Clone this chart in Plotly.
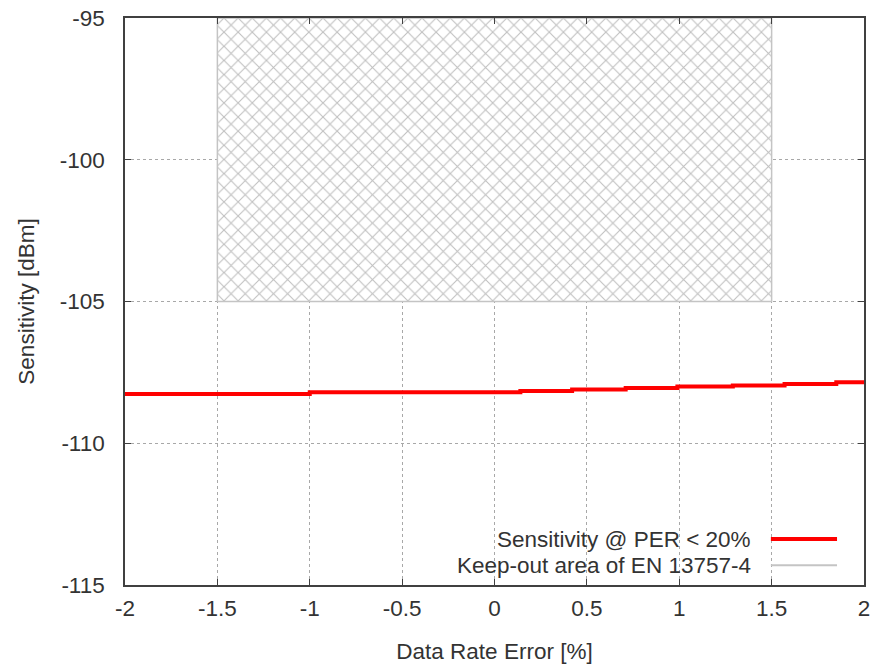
import plotly.graph_objects as go

# Data
rate_error = [-2.0, -1.0, 0.14, 0.42, 0.71, 0.99, 1.29, 1.57, 1.85, 2.0]
sensitivity = [-108.26, -108.2, -108.16, -108.1, -108.05, -108.0, -107.96, -107.91, -107.85, -107.85]
keepout_x = [-1.5, 1.5]
keepout_y = [-105, -95]
x_ticks = [-2, -1.5, -1, -0.5, 0, 0.5, 1, 1.5, 2]
x_ticklabels = ["-2", "-1.5", "-1", "-0.5", "0", "0.5", "1", "1.5", "2"]
y_ticks = [-115, -110, -105, -100, -95]
y_ticklabels = ["-115", "-110", "-105", "-100", "-95"]
legend_names = ["Sensitivity @ PER < 20%", "Keep-out area of EN 13757-4"]

FONT = "Liberation Sans"
AX = "#404040"
FS = 22.5

fig = go.Figure()

# keep-out hatched area
kx = [keepout_x[0], keepout_x[1], keepout_x[1], keepout_x[0], keepout_x[0]]
ky = [keepout_y[0], keepout_y[0], keepout_y[1], keepout_y[1], keepout_y[0]]
fig.add_trace(go.Scatter(
    x=kx, y=ky, mode="lines", fill="toself",
    line=dict(color="#c4c4c4", width=1.5),
    fillcolor="white",
    fillpattern=dict(shape="x", size=10, solidity=0.2, fgcolor="#c0c0c0", bgcolor="white", fillmode="replace"),
    showlegend=False, hoverinfo="skip",
))

# sensitivity line
fig.add_trace(go.Scatter(
    x=rate_error, y=sensitivity, mode="lines",
    line=dict(color="#ff0000", width=4, shape="hv"),
    showlegend=False,
))

axis_common = dict(
    showline=True, linecolor=AX, linewidth=1.5, mirror="ticks",
    ticks="inside", ticklen=6, tickwidth=1.2, tickcolor=AX,
    showgrid=True, gridcolor="#a8a8a8", gridwidth=1, griddash="dot",
    zeroline=False, automargin=False, ticklabeloverflow="allow",
    tickfont=dict(family=FONT, size=FS, color="#333333"),
)

fig.update_xaxes(
    range=[-2, 2], tickvals=x_ticks, ticktext=x_ticklabels,
    title=dict(text="Data Rate Error [%]", font=dict(family=FONT, size=FS, color="#333333"), standoff=23),
    ticklabelstandoff=2,
    **axis_common,
)
fig.update_yaxes(
    range=[-115, -95], tickvals=y_ticks, ticktext=y_ticklabels,
    title=dict(text="Sensitivity [dBm]", font=dict(family=FONT, size=FS, color="#333333"), standoff=19),
    ticklabelstandoff=14,
    **axis_common,
)

# opaque legend box (covers grid)
fig.add_shape(type="rect", xref="paper", yref="paper", x0=0.367, x1=1.0, y0=0.0, y1=0.108,
              fillcolor="white", line=dict(width=0), layer="between")

# legend entries
leg_y = [0.081, 0.035]
leg_colors = ["#ff0000", "#c4c4c4"]
leg_widths = [4, 2]
for name, yy, c, w in zip(legend_names, leg_y, leg_colors, leg_widths):
    fig.add_annotation(xref="paper", yref="paper", x=0.8498, y=yy, text=name,
                       showarrow=False, xanchor="right", yanchor="middle",
                       font=dict(family=FONT, size=FS, color="#333333"))
    fig.add_shape(type="line", xref="paper", yref="paper", x0=0.874, x1=0.9635, y0=yy, y1=yy,
                  line=dict(color=c, width=w), layer="above")

fig.update_layout(
    width=873, height=668,
    margin=dict(l=125, r=9, t=18, b=83),
    paper_bgcolor="white", plot_bgcolor="white",
    font=dict(family=FONT, size=FS, color="#333333"),
    showlegend=False,
)

fig.write_html("out.html", config={"displayModeBar": False},
               post_script="document.body.style.margin='0';document.body.style.overflow='hidden';")
